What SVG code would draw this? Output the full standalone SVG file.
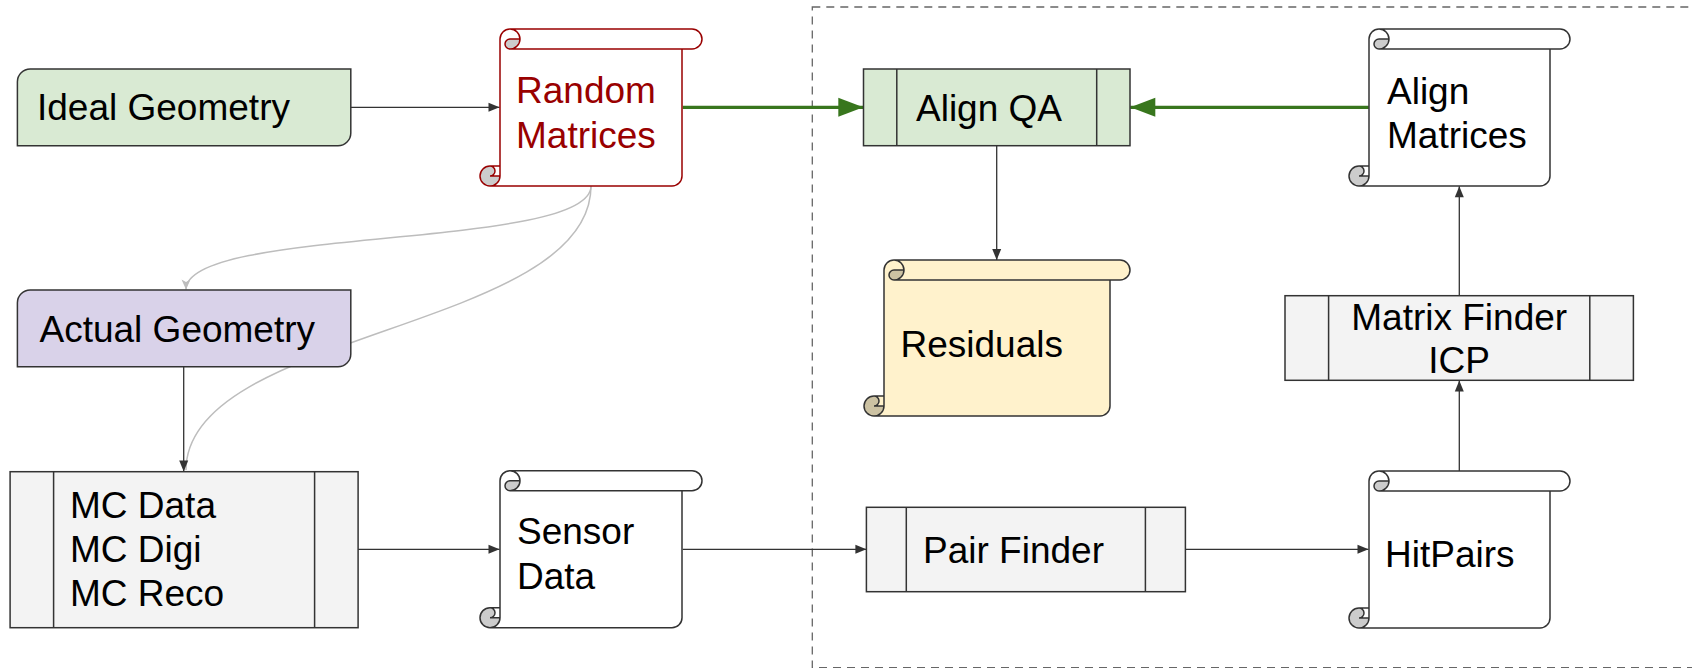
<svg xmlns="http://www.w3.org/2000/svg" width="1692" height="668" viewBox="0 0 1692 668">
<style>
.t{font-family:"Liberation Sans",Arial,sans-serif;font-size:37px;fill:#000}
.red{fill:#990000}
.box{stroke:#333;stroke-width:1.5}
.conn{fill:none;stroke:#333;stroke-width:1.3}
.green{fill:none;stroke:#38761d;stroke-width:3.2}
.gray{fill:none;stroke:#bdbdbd;stroke-width:1.5}
.ol{fill:none;stroke:#333;stroke-width:1.5}
.olr{fill:none;stroke:#990000;stroke-width:1.5}
</style>
<defs>
<marker id="ah" markerUnits="userSpaceOnUse" markerWidth="14" markerHeight="12" viewBox="-12 -6 14 12" refX="0" refY="0" orient="auto">
<path d="M0,0 L-11,-4.5 L-11,4.5 Z" fill="#333"/>
</marker>
<marker id="ahg" markerUnits="userSpaceOnUse" markerWidth="28" markerHeight="22" viewBox="-26 -11 28 22" refX="0" refY="0" orient="auto">
<path d="M0,0 L-25,-9.5 L-25,9.5 Z" fill="#38761d"/>
</marker>
<marker id="ahgr" markerUnits="userSpaceOnUse" markerWidth="14" markerHeight="12" viewBox="-12 -6 14 12" refX="0" refY="0" orient="auto">
<path d="M0,0 L-10,-4.5 L-7.5,0 L-10,4.5 Z" fill="#bdbdbd"/>
</marker>
</defs>
<rect width="1692" height="668" fill="#fff"/>
<rect id="group-frame" x="812.3" y="7" width="1000" height="660.7" fill="none" stroke="#666" stroke-width="1.3" stroke-dasharray="8 6"/>
<g id="connectors">
<path class="gray" d="M591,186 C591,330 186,330 186,470"/>
<path class="gray" d="M591,186 C591,250 186,226 186,289.5" marker-end="url(#ahgr)"/>
<path class="conn" d="M350.8,107.3 L499.5,107.3" marker-end="url(#ah)"/>
<path class="green" d="M682.7,107.3 L863.3,107.3" marker-end="url(#ahg)"/>
<path class="green" d="M1368.8,107.3 L1130.3,107.3" marker-end="url(#ahg)"/>
<path class="conn" d="M996.7,145.7 L996.7,260" marker-end="url(#ah)"/>
<path class="conn" d="M1459.3,295.7 L1459.3,186.2" marker-end="url(#ah)"/>
<path class="conn" d="M1459.3,471 L1459.3,380.5" marker-end="url(#ah)"/>
<path class="conn" d="M1185.3,549.3 L1368.5,549.3" marker-end="url(#ah)"/>
<path class="conn" d="M682.7,549.3 L866.4,549.3" marker-end="url(#ah)"/>
<path class="conn" d="M358,549.3 L499.5,549.3" marker-end="url(#ah)"/>
<path class="conn" d="M183.7,366.7 L183.7,471.5" marker-end="url(#ah)"/>
</g>
<g id="ideal-geometry">
<path class="box" fill="#d9ead3" d="M30.2,69 L350.8,69 L350.8,132.9 A12.8,12.8 0 0 1 338,145.7 L17.4,145.7 L17.4,81.8 A12.8,12.8 0 0 1 30.2,69 Z"/>
<text class="t" x="37" y="120">Ideal Geometry</text>
</g>
<g id="actual-geometry">
<path class="box" fill="#d9d2e9" d="M30.2,290 L350.8,290 L350.8,353.9 A12.8,12.8 0 0 1 338,366.7 L17.4,366.7 L17.4,302.8 A12.8,12.8 0 0 1 30.2,290 Z"/>
<text class="t" x="39.5" y="342.3">Actual Geometry</text>
</g>
<g id="random-matrices" transform="translate(480,29)">
<path fill="#fff" d="M10,157 A10,10 0 0 1 10,137 L20,137 L20,10 A10,10 0 0 1 30,0 L212,0 A10,10 0 0 1 212,20 L202,20 L202,147 A10,10 0 0 1 192,157 Z"/>
<path fill="#cccccc" d="M40,10 A10,10 0 0 1 30,20 A5,5 0 0 1 30,10 Z M20,147 A10,10 0 1 1 10,137 A5,5 0 0 1 10,147 Z"/>
<path class="olr" d="M20,137 L20,10 A10,10 0 0 1 30,0 L212,0 A10,10 0 0 1 212,20 L202,20 L202,147 A10,10 0 0 1 192,157 L10,157 A10,10 0 0 1 10,137 Z M30,0 A10,10 0 0 1 30,20 A5,5 0 0 1 30,10 L40,10 M202,20 L30,20 M10,137 A5,5 0 0 1 10,147 L20,147 M10,157 A10,10 0 0 0 20,147 L20,137"/>
<text class="t red" x="36" y="74.3">Random</text>
<text class="t red" x="36" y="118.7">Matrices</text>
</g>
<g id="align-qa">
<rect class="box" fill="#d9ead3" x="863.5" y="69" width="266.5" height="76.7"/>
<path class="ol" d="M896.8,69 L896.8,145.7 M1096.7,69 L1096.7,145.7"/>
<text class="t" x="916" y="120.7">Align QA</text>
</g>
<g id="align-matrices" transform="translate(1349,29)">
<path fill="#fff" d="M10,157 A10,10 0 0 1 10,137 L20,137 L20,10 A10,10 0 0 1 30,0 L211,0 A10,10 0 0 1 211,20 L201,20 L201,147 A10,10 0 0 1 191,157 Z"/>
<path fill="#cccccc" d="M40,10 A10,10 0 0 1 30,20 A5,5 0 0 1 30,10 Z M20,147 A10,10 0 1 1 10,137 A5,5 0 0 1 10,147 Z"/>
<path class="ol" d="M20,137 L20,10 A10,10 0 0 1 30,0 L211,0 A10,10 0 0 1 211,20 L201,20 L201,147 A10,10 0 0 1 191,157 L10,157 A10,10 0 0 1 10,137 Z M30,0 A10,10 0 0 1 30,20 A5,5 0 0 1 30,10 L40,10 M201,20 L30,20 M10,137 A5,5 0 0 1 10,147 L20,147 M10,157 A10,10 0 0 0 20,147 L20,137"/>
<text class="t" x="38" y="75">Align</text>
<text class="t" x="38" y="118.7">Matrices</text>
</g>
<g id="residuals" transform="translate(864,260)">
<path fill="#fff2cc" d="M10,156 A10,10 0 0 1 10,136 L20,136 L20,10 A10,10 0 0 1 30,0 L256,0 A10,10 0 0 1 256,20 L246,20 L246,146 A10,10 0 0 1 236,156 Z"/>
<path fill="#ccc2a3" d="M40,10 A10,10 0 0 1 30,20 A5,5 0 0 1 30,10 Z M20,146 A10,10 0 1 1 10,136 A5,5 0 0 1 10,146 Z"/>
<path class="ol" d="M20,136 L20,10 A10,10 0 0 1 30,0 L256,0 A10,10 0 0 1 256,20 L246,20 L246,146 A10,10 0 0 1 236,156 L10,156 A10,10 0 0 1 10,136 Z M30,0 A10,10 0 0 1 30,20 A5,5 0 0 1 30,10 L40,10 M246,20 L30,20 M10,136 A5,5 0 0 1 10,146 L20,146 M10,156 A10,10 0 0 0 20,146 L20,136"/>
<text class="t" x="36.5" y="96.7">Residuals</text>
</g>
<g id="matrix-finder-icp">
<rect class="box" fill="#f3f3f3" x="1285" y="295.7" width="348.4" height="84.6"/>
<path class="ol" d="M1328.6,295.7 L1328.6,380.3 M1589.8,295.7 L1589.8,380.3"/>
<text class="t" x="1459.2" y="330" text-anchor="middle">Matrix Finder</text>
<text class="t" x="1459.2" y="372.7" text-anchor="middle">ICP</text>
</g>
<g id="mc-sim">
<rect class="box" fill="#f3f3f3" x="10.1" y="471.7" width="348" height="156"/>
<path class="ol" d="M53.6,471.7 L53.6,627.7 M314.6,471.7 L314.6,627.7"/>
<text class="t" x="70" y="518.3">MC Data</text>
<text class="t" x="70" y="561.7">MC Digi</text>
<text class="t" x="70" y="605.7">MC Reco</text>
</g>
<g id="sensor-data" transform="translate(480,470.7)">
<path fill="#fff" d="M10,157 A10,10 0 0 1 10,137 L20,137 L20,10 A10,10 0 0 1 30,0 L212,0 A10,10 0 0 1 212,20 L202,20 L202,147 A10,10 0 0 1 192,157 Z"/>
<path fill="#cccccc" d="M40,10 A10,10 0 0 1 30,20 A5,5 0 0 1 30,10 Z M20,147 A10,10 0 1 1 10,137 A5,5 0 0 1 10,147 Z"/>
<path class="ol" d="M20,137 L20,10 A10,10 0 0 1 30,0 L212,0 A10,10 0 0 1 212,20 L202,20 L202,147 A10,10 0 0 1 192,157 L10,157 A10,10 0 0 1 10,137 Z M30,0 A10,10 0 0 1 30,20 A5,5 0 0 1 30,10 L40,10 M202,20 L30,20 M10,137 A5,5 0 0 1 10,147 L20,147 M10,157 A10,10 0 0 0 20,147 L20,137"/>
<text class="t" x="37" y="73.6">Sensor</text>
<text class="t" x="37" y="118.3">Data</text>
</g>
<g id="pair-finder">
<rect class="box" fill="#f3f3f3" x="866.4" y="507.3" width="319" height="84.4"/>
<path class="ol" d="M906.3,507.3 L906.3,591.7 M1145.4,507.3 L1145.4,591.7"/>
<text class="t" x="923" y="563.3">Pair Finder</text>
</g>
<g id="hitpairs" transform="translate(1349,471)">
<path fill="#fff" d="M10,157 A10,10 0 0 1 10,137 L20,137 L20,10 A10,10 0 0 1 30,0 L211,0 A10,10 0 0 1 211,20 L201,20 L201,147 A10,10 0 0 1 191,157 Z"/>
<path fill="#cccccc" d="M40,10 A10,10 0 0 1 30,20 A5,5 0 0 1 30,10 Z M20,147 A10,10 0 1 1 10,137 A5,5 0 0 1 10,147 Z"/>
<path class="ol" d="M20,137 L20,10 A10,10 0 0 1 30,0 L211,0 A10,10 0 0 1 211,20 L201,20 L201,147 A10,10 0 0 1 191,157 L10,157 A10,10 0 0 1 10,137 Z M30,0 A10,10 0 0 1 30,20 A5,5 0 0 1 30,10 L40,10 M201,20 L30,20 M10,137 A5,5 0 0 1 10,147 L20,147 M10,157 A10,10 0 0 0 20,147 L20,137"/>
<text class="t" x="36" y="95.7">HitPairs</text>
</g>
</svg>
